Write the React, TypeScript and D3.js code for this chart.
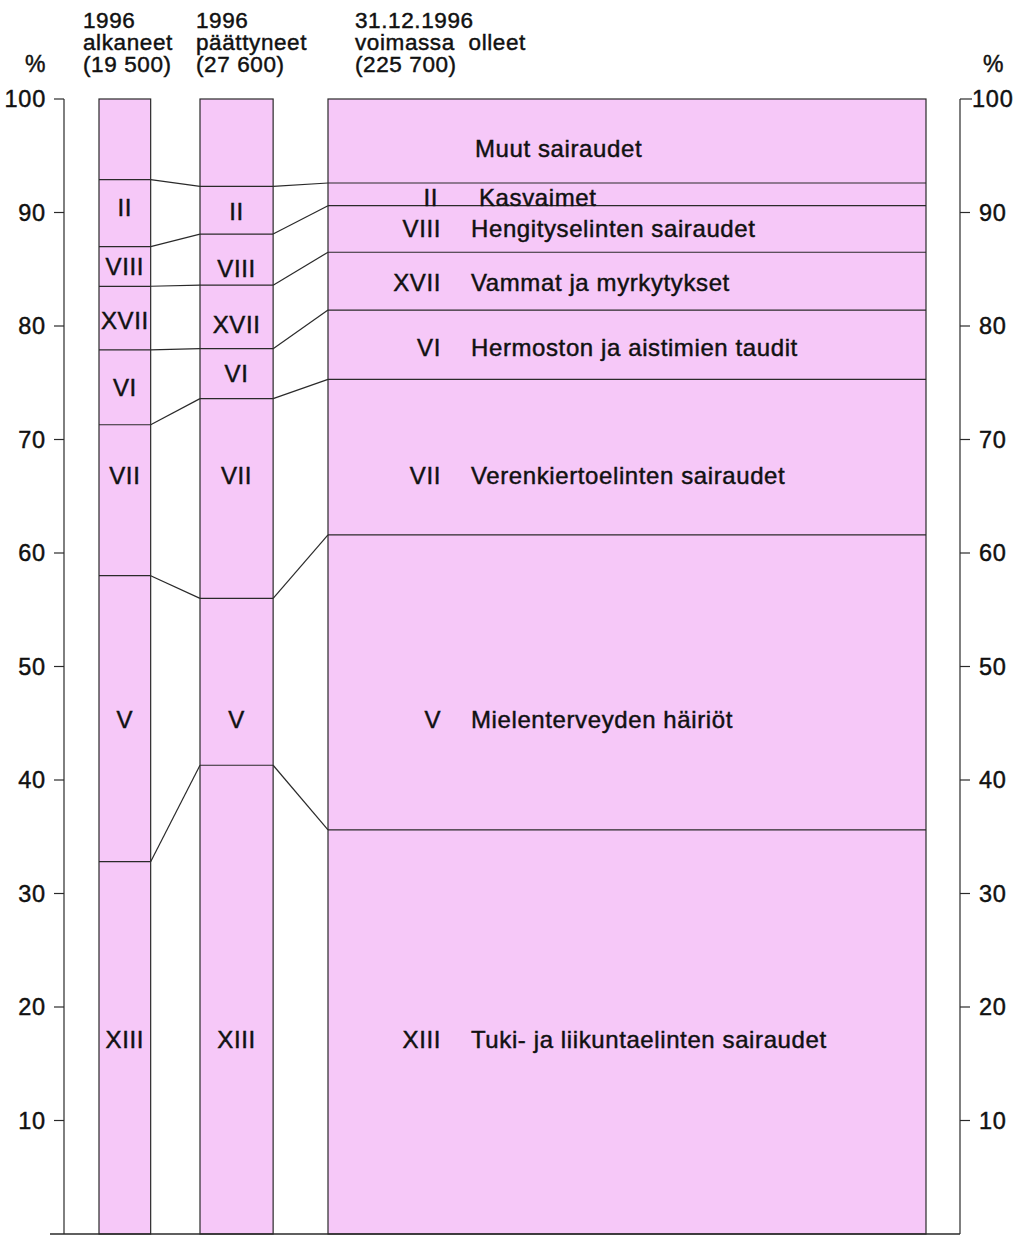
import React from "react";
import * as d3 from "d3";

// ---- data ----
const categories = ["XIII", "V", "VII", "VI", "XVII", "VIII", "II", "Muut"];
const categoryNames = [
  "Tuki- ja liikuntaelinten sairaudet",
  "Mielenterveyden häiriöt",
  "Verenkiertoelinten sairaudet",
  "Hermoston ja aistimien taudit",
  "Vammat ja myrkytykset",
  "Hengityselinten sairaudet",
  "Kasvaimet",
  "Muut sairaudet",
];
const alkaneet = [32.8, 25.2, 13.3, 6.6, 5.6, 3.5, 5.9, 7.1];
const paattyneet = [41.3, 14.7, 17.6, 4.4, 5.6, 4.5, 4.2, 7.7];
const voimassa = [35.6, 26.0, 13.7, 6.1, 5.1, 4.1, 2.0, 7.4];
const counts = [19500, 27600, 225700];
const headers = [
  ["1996", "alkaneet", "(19 500)"],
  ["1996", "päättyneet", "(27 600)"],
  ["31.12.1996", "voimassa  olleet", "(225 700)"],
];
// label anchor levels (in %) for each segment
const labelAt1 = [17.1, 45.3, 66.8, 74.6, 80.5, 85.2, 90.4, null];
const labelAt2 = [17.1, 45.3, 66.8, 75.8, 80.1, 85.1, 90.1, null];
const labelAt3 = [17.1, 45.3, 66.8, 78.1, 83.8, 88.6, 91.3, 95.6];
const yTicks = [10, 20, 30, 40, 50, 60, 70, 80, 90, 100];

const series = [alkaneet, paattyneet, voimassa];
const labelLevels = [labelAt1, labelAt2, labelAt3];

const W = 1025;
const H = 1235;
const FONT = "'Liberation Sans', Arial, Helvetica, sans-serif";
const PINK = "#f6c8f8";
const STROKE = "#2a2a2a";
const INK = "#111";

const txt = { fill: INK, stroke: INK, strokeWidth: 0.45 };

export default function App() {
  const y = d3.scaleLinear().domain([0, 100]).range([1234, 99]);
  const w = d3.scaleLinear().domain([0, 225700]).range([0, 598]);
  const barLeft = [99, 200, 328];
  const axisL = 64;
  const axisR = 960;

  const cums = series.map((s) => {
    let acc = 0;
    return s.map((v) => {
      const lo = acc;
      acc += v;
      return [lo, Math.min(acc, 100)];
    });
  });

  const bars = counts.map((c, i) => ({
    x0: barLeft[i],
    x1: barLeft[i] + w(c),
  }));

  return (
    <svg
      width={W}
      height={H}
      style={{ position: "absolute", left: 0, top: 0, background: "#fff" }}
      fontFamily={FONT}
    >
      {/* headers */}
      {headers.map((lines, i) => (
        <g key={"h" + i}>
          {lines.map((t, j) => (
            <text
              key={j}
              x={[83, 196, 355][i]}
              y={28 + j * 22}
              fontSize={22.5}
              letterSpacing={0.6}
              {...txt}
              style={{ whiteSpace: "pre" }}
            >
              {t}
            </text>
          ))}
        </g>
      ))}
      <text x={25} y={72} fontSize={23} {...txt}>%</text>
      <text x={983} y={72} fontSize={23} {...txt}>%</text>

      {/* bars */}
      {cums.map((segs, i) => (
        <g key={"b" + i}>
          <rect
            x={bars[i].x0}
            y={y(100)}
            width={bars[i].x1 - bars[i].x0}
            height={y(0) - y(100)}
            fill={PINK}
            stroke={STROKE}
            strokeWidth={1.2}
          />
          {segs.slice(0, -1).map((s, k) => (
            <line
              key={k}
              x1={bars[i].x0}
              x2={bars[i].x1}
              y1={y(s[1])}
              y2={y(s[1])}
              stroke={STROKE}
              strokeWidth={1.2}
            />
          ))}
        </g>
      ))}

      {/* connectors */}
      {[0, 1].map((i) =>
        cums[i].slice(0, -1).map((s, k) => (
          <line
            key={"c" + i + "-" + k}
            x1={bars[i].x1}
            y1={y(s[1])}
            x2={bars[i + 1].x0}
            y2={y(cums[i + 1][k][1])}
            stroke={STROKE}
            strokeWidth={1.2}
          />
        ))
      )}

      {/* labels in narrow bars */}
      {[0, 1].map((i) =>
        categories.map((c, k) =>
          labelLevels[i][k] == null ? null : (
            <text
              key={"l" + i + "-" + k}
              x={(bars[i].x0 + bars[i].x1) / 2}
              y={y(labelLevels[i][k] as number)}
              dy="0.35em"
              textAnchor="middle"
              fontSize={24}
              letterSpacing={0.6}
              {...txt}
            >
              {c}
            </text>
          )
        )
      )}

      {/* labels in wide bar */}
      {categories.map((c, k) => {
        const ly = y(labelLevels[2][k] as number);
        const isMuut = c === "Muut";
        const isII = c === "II";
        return (
          <g key={"w" + k}>
            {!isMuut && (
              <text
                x={isII ? 438 : 441}
                y={ly}
                dy="0.35em"
                textAnchor="end"
                fontSize={24}
                letterSpacing={0.6}
                {...txt}
              >
                {c}
              </text>
            )}
            <text
              x={isMuut ? 475 : isII ? 479 : 471}
              y={ly}
              dy="0.35em"
              fontSize={24}
              letterSpacing={0.6}
              {...txt}
            >
              {categoryNames[k]}
            </text>
          </g>
        );
      })}

      {/* left axis */}
      <line x1={axisL} x2={axisL} y1={y(100)} y2={y(0)} stroke={STROKE} strokeWidth={1.2} />
      {yTicks.map((t) => (
        <g key={"lt" + t}>
          <line x1={axisL - 10} x2={axisL} y1={y(t)} y2={y(t)} stroke={STROKE} strokeWidth={1.2} />
          <text x={46} y={y(t)} dy="0.35em" textAnchor="end" fontSize={23.5} letterSpacing={0.8} {...txt}>
            {t}
          </text>
        </g>
      ))}

      {/* right axis */}
      <line x1={axisR} x2={axisR} y1={y(100)} y2={y(0)} stroke={STROKE} strokeWidth={1.2} />
      {yTicks.map((t) => (
        <g key={"rt" + t}>
          <line x1={axisR} x2={axisR + (t === 100 ? 12 : 10)} y1={y(t)} y2={y(t)} stroke={STROKE} strokeWidth={1.2} />
          <text x={t === 100 ? 972 : 979} y={y(t)} dy="0.35em" fontSize={23.5} letterSpacing={0.8} {...txt}>
            {t}
          </text>
        </g>
      ))}

      {/* baseline */}
      <line x1={50} x2={axisR} y1={y(0)} y2={y(0)} stroke={STROKE} strokeWidth={1.5} />
    </svg>
  );
}
